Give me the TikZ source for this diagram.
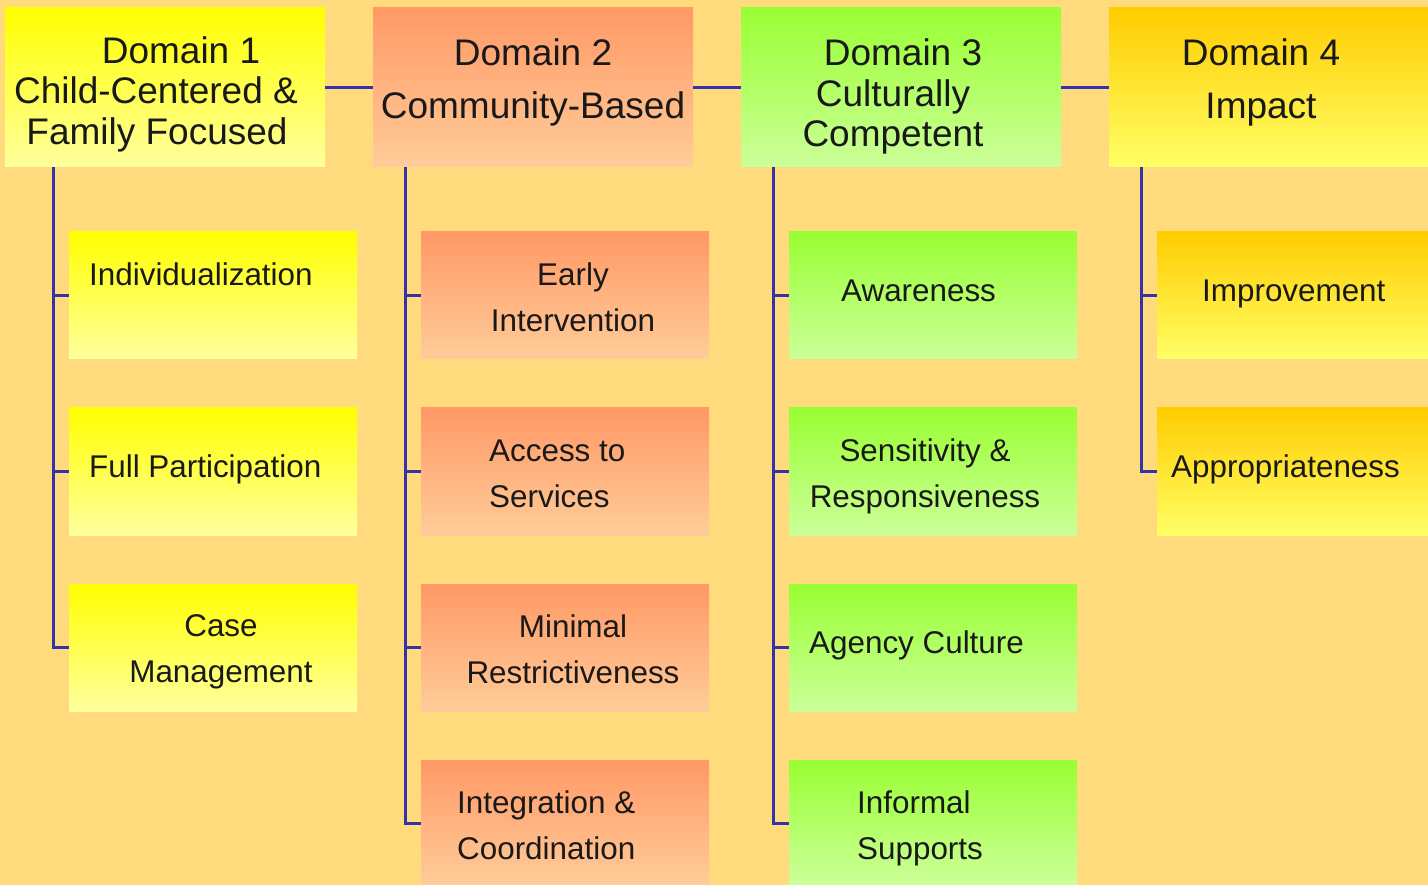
\documentclass[tikz,border=0pt]{standalone}
\usepackage{fontspec}
\setmainfont{Liberation Sans}
\begin{document}
\begin{tikzpicture}[x=1pt,y=-1pt,
  box/.style={inner sep=0pt, outer sep=0pt, anchor=north west, draw=none},
  hdr/.style={box, minimum width=320pt, minimum height=159pt},
  kid/.style={box, minimum width=288pt, minimum height=127pt},
  yel/.style={top color=yelT, bottom color=yelB},
  org/.style={top color=orgT, bottom color=orgB},
  grn/.style={top color=grnT, bottom color=grnB},
  gld/.style={top color=gldT, bottom color=gldB},
  conn/.style={draw=lineblue, line width=3pt},
  htxt/.style={inner sep=0pt, font=\fontsize{37}{41}\selectfont, text=black!90, text height=26.5pt, text depth=0pt},
  ktxt/.style={inner sep=0pt, font=\fontsize{31.4}{36}\selectfont, text=black!90, text height=22.5pt, text depth=0pt}
]
\definecolor{bg}{HTML}{FFDB7E}
\definecolor{yelT}{HTML}{FFFF00}
\definecolor{yelB}{HTML}{FFFF9E}
\definecolor{orgT}{HTML}{FF9966}
\definecolor{orgB}{HTML}{FFCC99}
\definecolor{grnT}{HTML}{99FF33}
\definecolor{grnB}{HTML}{CCFF99}
\definecolor{gldT}{HTML}{FFCC00}
\definecolor{gldB}{HTML}{FFFF66}
\definecolor{lineblue}{HTML}{3333AA}
\fill[bg] (0,0) rectangle (1428,885);
\useasboundingbox (0,0) rectangle (1428,885);

% headers
\node[hdr, yel] (d1) at (5,8) {};
\node[hdr, org] (d2) at (373,8) {};
\node[hdr, grn] (d3) at (741,8) {};
\node[hdr, gld, minimum width=319pt] (d4) at (1109,8) {};

% children
\node[kid, yel] (c11) at (69,232) {};
\node[kid, yel] (c12) at (69,408) {};
\node[kid, yel] (c13) at (69,584) {};
\node[kid, org] (c21) at (421,232) {};
\node[kid, org] (c22) at (421,408) {};
\node[kid, org] (c23) at (421,584) {};
\node[kid, org, minimum height=125pt] (c24) at (421,760) {};
\node[kid, grn] (c31) at (789,232) {};
\node[kid, grn] (c32) at (789,408) {};
\node[kid, grn] (c33) at (789,584) {};
\node[kid, grn, minimum height=125pt] (c34) at (789,760) {};
\node[kid, gld, minimum width=271pt] (c41) at (1157,232) {};
\node[kid, gld, minimum width=271pt] (c42) at (1157,408) {};

% connectors
\draw[conn] (d1.east) -- (d2.west);
\draw[conn] (d2.east) -- (d3.west);
\draw[conn] (d3.east) -- (d4.west);
\coordinate (t1) at (53,167);
\coordinate (t2) at (405,167);
\coordinate (t3) at (773,167);
\coordinate (t4) at (1141,167);
\foreach \c in {c11,c12,c13} \draw[conn] (t1) |- (\c.west);
\foreach \c in {c21,c22,c23} \draw[conn] (t2) |- (\c.west);
\draw[conn] (t2) |- (c24.west |- 0,823);
\foreach \c in {c31,c32,c33} \draw[conn] (t3) |- (\c.west);
\draw[conn] (t3) |- (c34.west |- 0,823);
\foreach \c in {c41,c42} \draw[conn] (t4) |- (\c.west);

% header texts
\node[htxt] (d1a) at (181,50) {Domain 1};
\node[htxt] (d1b) at (156,90) {Child-Centered \&};
\node[htxt] (d1c) at (157,131) {Family Focused};
\node[htxt] (d2a) at (533,52.5) {Domain 2};
\node[htxt] (d2b) at (533,105) {Community-Based};
\node[htxt] (d3a) at (903,52.5) {Domain 3};
\node[htxt] (d3b) at (893,93) {Culturally};
\node[htxt] (d3c) at (893,133) {Competent};
\node[htxt] (d4a) at (1261,52.5) {Domain 4};
\node[htxt] (d4b) at (1261,105) {Impact};

% child texts
\node[ktxt, anchor=west] (k11) at (89,274) {Individualization};
\node[ktxt, anchor=west] (k12) at (89,466) {Full Participation};
\node[ktxt] (k13a) at (221,625.5) {Case};
\node[ktxt] (k13b) at (221,671.5) {Management};
\node[ktxt] (k21a) at (573,274) {Early};
\node[ktxt] (k21b) at (573,320) {Intervention};
\node[ktxt, anchor=west] (k22a) at (489,450) {Access to};
\node[ktxt, anchor=west] (k22b) at (489,496) {Services};
\node[ktxt] (k23a) at (573,626) {Minimal};
\node[ktxt] (k23b) at (573,672) {Restrictiveness};
\node[ktxt, anchor=west] (k24a) at (457,802) {Integration \&};
\node[ktxt, anchor=west] (k24b) at (457,848) {Coordination};
\node[ktxt, anchor=west] (k31) at (841,290) {Awareness};
\node[ktxt] (k32a) at (925,450) {Sensitivity \&};
\node[ktxt] (k32b) at (925,496) {Responsiveness};
\node[ktxt, anchor=west] (k33) at (809,642) {Agency Culture};
\node[ktxt, anchor=west] (k34a) at (857,802) {Informal};
\node[ktxt, anchor=west] (k34b) at (857,848) {Supports};
\node[ktxt, anchor=west] (k41) at (1202,290) {Improvement};
\node[ktxt, anchor=west] (k42) at (1171,466) {Appropriateness};
\end{tikzpicture}
\end{document}
